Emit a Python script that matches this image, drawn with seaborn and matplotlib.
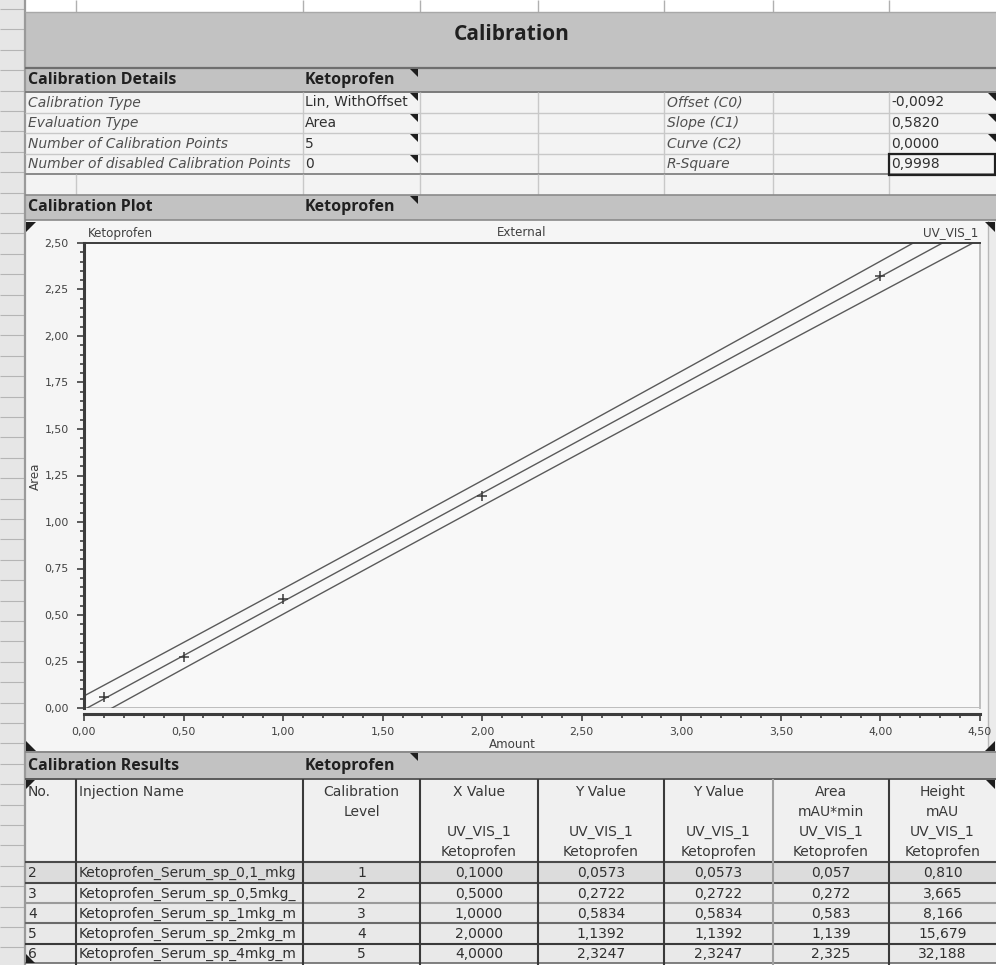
import numpy as np
import pandas as pd
import matplotlib
matplotlib.use("Agg")
import matplotlib.pyplot as plt
from matplotlib.patches import Rectangle, Polygon
from matplotlib.ticker import MultipleLocator, FuncFormatter
import seaborn as sns

# ---- calibration data -------------------------------------------------------
inj_no = [2, 3, 4, 5, 6]
inj_name = ["Ketoprofen_Serum_sp_0,1_mkg", "Ketoprofen_Serum_sp_0,5mkg_",
            "Ketoprofen_Serum_sp_1mkg_m", "Ketoprofen_Serum_sp_2mkg_m",
            "Ketoprofen_Serum_sp_4mkg_m"]
cal_level = [1, 2, 3, 4, 5]
amount = [0.1000, 0.5000, 1.0000, 2.0000, 4.0000]
y_value = [0.0573, 0.2722, 0.5834, 1.1392, 2.3247]
area_mau = [0.057, 0.272, 0.583, 1.139, 2.325]
height_mau = [0.810, 3.665, 8.166, 15.679, 32.188]

offset_c0 = -0.0092
slope_c1 = 0.5820
curve_c2 = 0.0000
r_square = 0.9998

details_left = [("Calibration Type", "Lin, WithOffset"),
                ("Evaluation Type", "Area"),
                ("Number of Calibration Points", "5"),
                ("Number of disabled Calibration Points", "0")]
details_right = [("Offset (C0)", offset_c0), ("Slope (C1)", slope_c1),
                 ("Curve (C2)", curve_c2), ("R-Square", r_square)]

W, H = 996, 965
sns.set_theme(style="white")
plt.rcParams["font.family"] = ["DejaVu Sans"]

fig = plt.figure(figsize=(W / 100, H / 100), dpi=100)
fig.patch.set_facecolor("white")
bg = fig.add_axes([0, 0, 1, 1])
bg.set_xlim(0, W)
bg.set_ylim(H, 0)
bg.axis("off")
bg.set_zorder(0)

HEAD = "#c2c2c2"
CELL = "#f3f3f3"
GRID = "#c8c8c8"
BOLD = dict(family=["Open Sans", "DejaVu Sans"], weight="bold", color="#202020")
SEC = 11.5
BODY = 10.0
cols = [25, 76, 303, 420, 538, 664, 773, 889, 996]


def comma(v, nd):
    return f"{v:.{nd}f}".replace(".", ",")


def rect(x0, y0, x1, y1, fc, ec="none", lw=0, z=1):
    bg.add_patch(Rectangle((x0, y0), x1 - x0, y1 - y0, fc=fc, ec=ec, lw=lw, zorder=z))


def hline(y, x0, x1, c=GRID, lw=1.0, z=3):
    bg.plot([x0, x1], [y, y], color=c, lw=lw, zorder=z, solid_capstyle="butt")


def vline(x, y0, y1, c=GRID, lw=1.0, z=3):
    bg.plot([x, x], [y0, y1], color=c, lw=lw, zorder=z, solid_capstyle="butt")


def tri(x, y, s, corner):
    # small filled corner marker; corner gives where the right angle sits
    if corner == "tr":
        pts = [(x, y), (x - s, y), (x, y + s)]
    elif corner == "tl":
        pts = [(x, y), (x + s, y), (x, y + s)]
    elif corner == "bl":
        pts = [(x, y), (x + s, y), (x, y - s)]
    else:
        pts = [(x, y), (x - s, y), (x, y - s)]
    bg.add_patch(Polygon(pts, closed=True, fc="#1e1e1e", ec="none", zorder=6))


# ---- spreadsheet gutter and top strip ---------------------------------------
rect(0, 0, 24, H, "#e6e6e6")
for yy in np.arange(9, H, 20.4):
    hline(yy, 0, 24, c="#b5b5b5", lw=0.8)
vline(24.5, 0, H, c="#9a9a9a", lw=1.6)
for x in cols[1:-1]:
    vline(x, 0, 12, c="#b0b0b0", lw=1.0)

# ---- title band ------------------------------------------------------------
rect(25, 12, W, 68, HEAD)
hline(12, 25, W, c="#a8a8a8", lw=1.0)
bg.text(512, 34, "Calibration", ha="center", va="center", fontsize=15, **BOLD, zorder=5)
hline(68, 25, W, c="#6e6e6e", lw=1.6)

# ---- calibration details ---------------------------------------------------
rect(25, 68, W, 92, HEAD)
bg.text(28, 80, "Calibration Details", ha="left", va="center", fontsize=SEC, **BOLD, zorder=5)
bg.text(305, 80, "Ketoprofen", ha="left", va="center", fontsize=SEC, **BOLD, zorder=5)
tri(418, 69, 8, "tr")
hline(92, 25, W, c="#7a7a7a", lw=1.4)
rect(25, 92, W, 174, CELL)
row_y = [92, 113, 133, 154, 174]
for yy in row_y[1:-1]:
    hline(yy, 25, W)
for x in cols[2:-1]:
    vline(x, 92, 174)
for i, (lab, val) in enumerate(details_left):
    yc = (row_y[i] + row_y[i + 1]) / 2
    bg.text(28, yc, lab, ha="left", va="center", fontsize=BODY, style="italic",
            color="#505050", zorder=5)
    bg.text(305, yc, val, ha="left", va="center", fontsize=BODY, color="#303030", zorder=5)
    tri(418, row_y[i] + 1, 8, "tr")
for i, (lab, val) in enumerate(details_right):
    yc = (row_y[i] + row_y[i + 1]) / 2
    bg.text(667, yc, lab, ha="left", va="center", fontsize=BODY, style="italic",
            color="#505050", zorder=5)
    bg.text(891, yc, comma(val, 4), ha="left", va="center", fontsize=BODY,
            color="#303030", zorder=5)
    if i < 3:
        tri(996, row_y[i] + 1, 8, "tr")
rect(889, 154, 995, 175, "none", ec="#202020", lw=1.6, z=5)
hline(174, 25, W, c="#8a8a8a", lw=1.4)
rect(25, 174, W, 195, CELL)
for x in cols[1:-1]:
    vline(x, 174, 195)

# ---- calibration plot panel ------------------------------------------------
rect(25, 195, W, 220, HEAD)
hline(195, 25, W, c="#8a8a8a", lw=1.2)
bg.text(28, 207, "Calibration Plot", ha="left", va="center", fontsize=SEC, **BOLD, zorder=5)
bg.text(305, 207, "Ketoprofen", ha="left", va="center", fontsize=SEC, **BOLD, zorder=5)
tri(418, 196, 8, "tr")
hline(220, 25, W, c="#8a8a8a", lw=1.2)
rect(25, 220, 988, 752, "#f5f5f5")
rect(988, 220, W, 752, "#ebebeb")
vline(988, 220, 752, c="#b8b8b8", lw=1.0)
tri(26, 222, 10, "tl")
tri(995, 222, 10, "tr")
tri(26, 751, 10, "bl")
tri(995, 751, 10, "br")
small = dict(fontsize=8.6, color="#404040", zorder=5)
bg.text(88, 233, "Ketoprofen", ha="left", va="center", **small)
bg.text(522, 233, "External", ha="center", va="center", **small)
bg.text(978, 233, "UV_VIS_1", ha="right", va="center", **small)
bg.text(512, 745, "Amount", ha="center", va="center", **small)
bg.text(35, 476, "Area", ha="center", va="center", rotation=90, **small)

ax_l, ax_r, ax_t, ax_b = 84, 980, 243, 708
ax = fig.add_axes([ax_l / W, 1 - ax_b / H, (ax_r - ax_l) / W, (ax_b - ax_t) / H])
ax.set_zorder(2)
ax.set_facecolor("#f8f8f8")

cal = pd.DataFrame({"Amount": amount, "Area": y_value})

# linear fit with a 98 % prediction band from the calibration points
xs = np.linspace(0, 4.5, 200)
fit = offset_c0 + slope_c1 * xs
x_arr = np.asarray(amount)
resid = np.asarray(y_value) - (offset_c0 + slope_c1 * x_arr)
s_res = np.sqrt(np.sum(resid ** 2) / (len(x_arr) - 2))
sxx = np.sum((x_arr - x_arr.mean()) ** 2)
t_q = 4.541
half = t_q * s_res * np.sqrt(1 + 1 / len(x_arr) + (xs - x_arr.mean()) ** 2 / sxx)
band = pd.DataFrame({"Amount": np.concatenate([xs, xs, xs]),
                     "Area": np.concatenate([fit, fit + half, fit - half]),
                     "curve": ["fit"] * len(xs) + ["upper"] * len(xs) + ["lower"] * len(xs)})
sns.lineplot(data=band, x="Amount", y="Area", units="curve", estimator=None,
             color="#5a5a5a", lw=1.0, ax=ax, legend=False)
sns.scatterplot(data=cal, x="Amount", y="Area", marker="+", s=55, color="#3a3a3a",
                linewidth=1.1, ax=ax, zorder=4, legend=False)

ax.set_xlim(0, 4.5)
ax.set_ylim(0, 2.5)
ax.set_xlabel("")
ax.set_ylabel("")
ax.xaxis.set_major_locator(MultipleLocator(0.5))
ax.xaxis.set_minor_locator(MultipleLocator(0.1))
ax.yaxis.set_major_locator(MultipleLocator(0.25))
ax.yaxis.set_minor_locator(MultipleLocator(0.05))
fmt = FuncFormatter(lambda v, p: comma(v, 2))
ax.xaxis.set_major_formatter(fmt)
ax.yaxis.set_major_formatter(fmt)
ax.tick_params(axis="both", which="major", direction="out", length=5, width=1.2,
               colors="#404040", labelsize=7.8, pad=6, bottom=True, left=True)
ax.tick_params(axis="both", which="minor", direction="out", length=3, width=1.2,
               colors="#404040", bottom=True, left=True)
ax.tick_params(axis="x", which="major", pad=5)
for side in ["top", "left", "bottom"]:
    ax.spines[side].set_color("#3c3c3c")
ax.spines["top"].set_linewidth(1.4)
ax.spines["left"].set_linewidth(2.2)
ax.spines["bottom"].set_linewidth(2.2)
ax.spines["bottom"].set_position(("outward", 4))
ax.spines["right"].set_color("#bdbdbd")
ax.spines["right"].set_linewidth(1.4)
ax.axhline(0, color="#bdbdbd", lw=1.4, zorder=1)

# ---- calibration results ---------------------------------------------------
rect(25, 752, W, 779, HEAD)
hline(752, 25, W, c="#8a8a8a", lw=1.4)
bg.text(28, 766, "Calibration Results", ha="left", va="center", fontsize=SEC, **BOLD, zorder=5)
bg.text(305, 766, "Ketoprofen", ha="left", va="center", fontsize=SEC, **BOLD, zorder=5)
tri(418, 753, 8, "tr")
hline(779, 25, W, c="#5a5a5a", lw=1.4)
rect(25, 779, W, 862, "#f0f0f0")
tri(26, 780, 9, "tl")
tri(995, 780, 9, "tr")
tri(26, 963, 9, "bl")

headers = [
    (cols[0] + 3, "left", ["No."]),
    (cols[1] + 3, "left", ["Injection Name"]),
    ((cols[2] + cols[3]) / 2, "center", ["Calibration", "Level"]),
    ((cols[3] + cols[4]) / 2, "center", ["X Value", "", "UV_VIS_1", "Ketoprofen"]),
    ((cols[4] + cols[5]) / 2, "center", ["Y Value", "", "UV_VIS_1", "Ketoprofen"]),
    ((cols[5] + cols[6]) / 2, "center", ["Y Value", "", "UV_VIS_1", "Ketoprofen"]),
    ((cols[6] + cols[7]) / 2, "center", ["Area", "mAU*min", "UV_VIS_1", "Ketoprofen"]),
    ((cols[7] + cols[8]) / 2, "center", ["Height", "mAU", "UV_VIS_1", "Ketoprofen"]),
]
for x, ha, lines in headers:
    for k, t in enumerate(lines):
        bg.text(x, 792 + 20 * k, t, ha=ha, va="center", fontsize=BODY,
                color="#383838", zorder=5)

data_rows = [862, 883, 903, 923, 944, 963]
row_bg = ["#dcdcdc", "#e9e9e9", "#e9e9e9", "#e9e9e9", "#e9e9e9"]
row_line = ["#4a4a4a", "#4a4a4a", "#9a9a9a", "#6a6a6a", "#3a3a3a"]
for i in range(5):
    y0, y1 = data_rows[i], data_rows[i + 1]
    yc = (y0 + y1) / 2
    rect(25, y0, W, y1, row_bg[i])
    hline(y0, 25, W, c=row_line[i], lw=1.5)
    cells = [
        (cols[0] + 3, "left", str(inj_no[i])),
        ((cols[2] + cols[3]) / 2, "center", str(cal_level[i])),
        ((cols[3] + cols[4]) / 2, "center", comma(amount[i], 4)),
        ((cols[4] + cols[5]) / 2, "center", comma(y_value[i], 4)),
        ((cols[5] + cols[6]) / 2, "center", comma(y_value[i], 4)),
        ((cols[6] + cols[7]) / 2, "center", comma(area_mau[i], 3)),
        ((cols[7] + cols[8]) / 2, "center", comma(height_mau[i], 3)),
    ]
    for x, ha, t in cells:
        bg.text(x, yc + 0.5, t, ha=ha, va="center", fontsize=BODY, color="#303030", zorder=5)
    name = bg.text(cols[1] + 3, yc + 0.5, inj_name[i], ha="left", va="center",
                   fontsize=BODY, color="#303030", zorder=5)
    clip = Rectangle((cols[1], y0), cols[2] - cols[1] - 1, y1 - y0, transform=bg.transData)
    name.set_clip_path(clip)
hline(963, 25, W, c="#6a6a6a", lw=1.2)
for x in [76, 303, 420, 538, 664, 889]:
    vline(x, 779, H, c="#3a3a3a", lw=1.5)
vline(773, 779, H, c="#a0a0a0", lw=1.5)

fig.savefig("out.png", dpi=100, facecolor=fig.get_facecolor())
